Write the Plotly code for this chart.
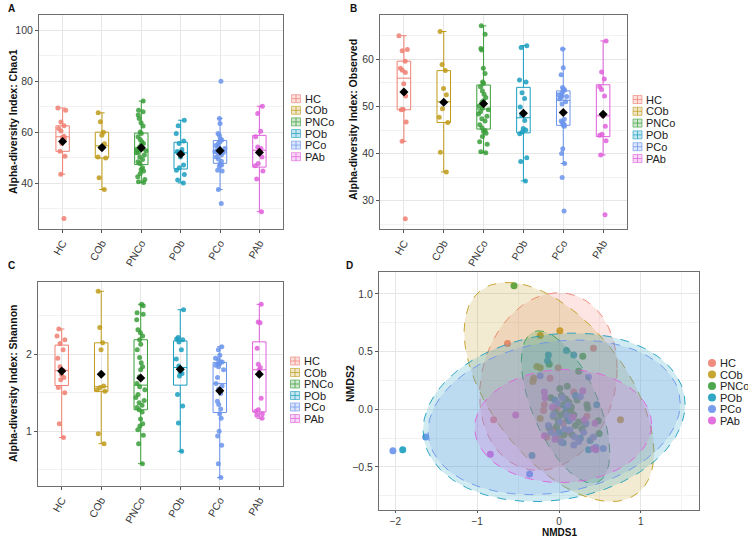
import numpy as np
import plotly.graph_objects as go

# ---------------- data ----------------
groups = ["HC", "COb", "PNCo", "POb", "PCo", "PAb"]
colors = ["#F07F72", "#C09B1A", "#3A9E3A", "#1A9DBE", "#6B94EC", "#E060DA"]

# Panel A: Chao1
chao1_hc = [69.5, 68.6, 64.0, 62.5, 60.5, 61.4, 58.4, 58.0, 57.5, 55.6, 52.5, 50.6, 43.5, 26.1]
chao1_cob = [67.6, 64.1, 60.0, 58.8, 55.5, 53.8, 50.3, 49.9, 42.1, 37.5]
chao1_pnco = [72.2, 68.6, 68.0, 66.7, 65.4, 63.7, 62.4, 60.1, 59.5, 58.2, 57.1, 56.2, 55.6, 55.0,
              54.2, 53.3, 53.0, 52.7, 52.0, 51.9, 51.0, 50.3, 49.3, 48.4, 47.7, 46.0, 45.4, 44.8,
              43.8, 42.5, 41.4, 40.5, 40.3]
chao1_pob = [64.7, 62.5, 59.5, 56.5, 55.6, 53.2, 52.4, 52.0, 51.8, 50.3, 47.1, 46.0, 45.1, 43.4, 41.2, 40.1]
chao1_pco = [80.0, 65.4, 63.4, 59.5, 58.8, 57.5, 56.9, 56.2, 55.6, 54.8, 54.2, 53.6, 52.9, 52.3,
             52.0, 51.6, 51.0, 50.3, 49.5, 48.6, 47.5, 47.1, 46.5, 45.1, 44.8, 37.5, 32.0]
chao1_pab = [70.2, 67.3, 60.4, 58.2, 54.2, 53.6, 52.9, 50.3, 47.7, 46.8, 44.8, 41.6, 28.8]

# Panel B: Observed
obs_hc = [65.0, 62.1, 61.8, 59.6, 58.1, 57.7, 57.2, 54.8, 52.2, 49.4, 49.3, 46.7, 42.6, 26.2]
obs_cob = [65.9, 58.9, 57.6, 53.8, 52.5, 49.5, 47.7, 46.6, 40.3, 36.1]
obs_pnco = [67.1, 65.3, 62.3, 62.0, 58.1, 57.0, 55.2, 54.9, 54.2, 53.3, 52.6, 51.9, 51.2, 50.9,
            50.1, 49.6, 49.3, 48.9, 48.4, 47.9, 47.4, 46.9, 46.1, 45.5, 44.9, 44.7, 44.3, 43.6,
            42.5, 42.0, 40.4, 40.2]
obs_pob = [62.9, 62.5, 55.6, 55.2, 52.9, 51.7, 49.9, 48.2, 47.0, 45.3, 45.0, 44.6, 44.2, 39.1, 38.3, 34.2]
obs_pco = [62.2, 58.2, 56.7, 54.0, 53.7, 53.5, 53.3, 52.8, 52.5, 52.3, 52.1, 51.9, 51.6, 51.0,
           50.5, 47.3, 46.9, 46.6, 46.2, 46.0, 45.8, 41.0, 40.0, 37.9, 34.9, 27.8]
obs_pab = [63.9, 57.3, 55.8, 54.2, 53.6, 52.2, 48.0, 45.8, 44.1, 43.9, 42.7, 39.7, 27.0]

# Panel C: Shannon
sh_hc = [2.33, 2.24, 2.19, 2.14, 2.06, 1.95, 1.84, 1.79, 1.74, 1.70, 1.67, 1.57, 1.50, 1.10, 0.92]
sh_cob = [2.82, 2.35, 2.15, 2.06, 1.59, 1.57, 1.54, 1.52, 0.97, 0.84]
sh_pnco = [0.58, 0.84, 0.95, 1.02, 1.07, 1.10, 1.16, 1.25, 1.28, 1.31, 1.34, 1.37, 1.40, 1.44,
           1.48, 1.54, 1.58, 1.62, 1.71, 1.80, 1.84, 1.89, 1.96, 2.06, 2.13, 2.19, 2.24, 2.28,
           2.32, 2.45, 2.52, 2.54, 2.63, 2.65]
sh_pob = [2.58, 2.22, 2.20, 2.19, 2.16, 2.06, 1.94, 1.85, 1.81, 1.77, 1.75, 1.72, 1.48, 1.33, 1.11, 0.74]
sh_pco = [2.10, 2.06, 1.99, 1.95, 1.93, 1.90, 1.90, 1.88, 1.87, 1.86, 1.84, 1.80, 1.70, 1.62,
          1.59, 1.55, 1.49, 1.39, 1.35, 1.29, 1.23, 1.17, 1.00, 0.94, 0.82, 0.58, 0.40]
sh_pab = [2.65, 2.42, 2.41, 2.08, 1.87, 1.83, 1.80, 1.43, 1.28, 1.26, 1.23, 1.21, 1.17]

# Panel D: NMDS scores
nm_hc_x = [-0.63, -0.80, 0.42, -0.11, -0.18, -0.19, -0.01, 0.18, -0.07, 0.05, 0.34, -0.15, -0.02, 0.12]
nm_hc_y = [0.57, -0.09, 0.53, 0.27, 0.04, -0.01, 0.36, 0.15, -0.18, -0.12, -0.06, -0.24, 0.01, -0.20]
nm_cob_x = [-0.23, 0.01, 0.75, -0.27, -0.23, -0.31, -0.32, -0.23, 0.01, 0.10]
nm_cob_y = [0.64, 0.68, -0.09, 0.37, 0.36, 0.27, 0.24, -0.08, -0.26, -0.02]
nm_pnco_x = [-0.55, -0.12, 0.29, 0.24, 0.01, 0.34, 0.35, 0.48, 0.49, 0.24, 0.32, -0.03, -0.07, 0.07,
             0.12, 0.14, 0.05, 0.10, 0.18, -0.10, 0.02, 0.08, 0.15, -0.05, 0.20, 0.06, -0.12, 0.28,
             0.10, 0.22, 0.03, -0.01, 0.16]
nm_pnco_y = [1.07, 0.39, 0.46, 0.33, 0.18, 0.04, 0.01, -0.10, -0.21, -0.11, -0.13, -0.15, -0.06, -0.03,
             0.06, -0.01, 0.04, -0.08, -0.05, 0.10, -0.05, 0.09, 0.02, -0.02, -0.14, -0.22, -0.16, -0.17,
             0.20, 0.08, 0.12, -0.10, -0.22]
nm_pob_x = [-1.91, -0.33, -0.13, 0.09, 0.18, 0.46, 0.38, 0.36, 0.05, 0.00, 0.12, -0.05, 0.20, 0.26, 0.08, -0.14]
nm_pob_y = [-0.35, -0.40, 0.47, 0.51, 0.47, 0.04, -0.27, -0.35, -0.29, -0.20, -0.10, 0.08, 0.12, -0.25, 0.02, 0.42]
nm_pco_x = [-2.03, -1.63, -0.36, -0.23, 0.36, 0.26, 0.42, 0.54, 0.18, -0.13, 0.01, -0.07, 0.09, 0.13,
            0.19, 0.04, 0.30, -0.02, 0.07, 0.24, -0.10, 0.15, 0.02, 0.33, 0.11, -0.04, 0.45]
nm_pco_y = [-0.36, -0.24, -0.56, 0.29, 0.28, 0.11, -0.24, -0.34, -0.31, -0.14, -0.11, -0.05, -0.05, -0.18,
            -0.24, 0.10, -0.20, 0.05, -0.17, -0.28, -0.20, -0.08, -0.28, -0.12, 0.04, -0.23, -0.33]
nm_pab_x = [-0.53, -0.84, -0.17, -0.18, 0.29, 0.44, 0.45, -0.05, -0.18, 0.42, 0.17, 0.31, -0.08]
nm_pab_y = [-0.05, -0.39, 0.10, 0.15, 0.16, -0.12, -0.35, -0.26, -0.23, -0.34, -0.07, -0.09, 0.02]

# Confidence ellipse parameters (centre, half-extents, correlation) per group
ell_cx = [-0.13, 0.00, 0.08, -0.06, -0.06, 0.05]
ell_cy = [0.24, 0.15, 0.02, -0.07, -0.07, -0.145]
ell_ex = [0.84, 1.16, 0.54, 1.60, 1.54, 1.08]
ell_ey = [0.77, 0.95, 0.66, 0.73, 0.67, 0.49]
ell_r = [0.15, -0.55, -0.60, 0.15, 0.18, 0.03]

panel_data = [
    [chao1_hc, chao1_cob, chao1_pnco, chao1_pob, chao1_pco, chao1_pab],
    [obs_hc, obs_cob, obs_pnco, obs_pob, obs_pco, obs_pab],
    [sh_hc, sh_cob, sh_pnco, sh_pob, sh_pco, sh_pab],
]
nmds_x = [nm_hc_x, nm_cob_x, nm_pnco_x, nm_pob_x, nm_pco_x, nm_pab_x]
nmds_y = [nm_hc_y, nm_cob_y, nm_pnco_y, nm_pob_y, nm_pco_y, nm_pab_y]

# ---------------- layout helpers ----------------
W, H = 748, 539
FONT = "Liberation Sans, Arial, Helvetica, sans-serif"


def fx(p):
    return p / W


def fy(p):
    return 1 - p / H


def rgba(hexc, a):
    h = hexc.lstrip("#")
    return "rgba(%d,%d,%d,%.3f)" % (int(h[0:2], 16), int(h[2:4], 16), int(h[4:6], 16), a)


fig = go.Figure()

# pixel boxes of the four panels: (x0, x1, y0, y1)
boxes = [(39, 283, 15, 229), (380, 627, 15, 229), (38, 283, 282, 486), (379, 699, 272, 510)]
suffix = ["", "2", "3", "4"]

# ---------------- box panels ----------------
for p in range(3):
    xa = "x" + suffix[p]
    ya = "y" + suffix[p]
    for i, g in enumerate(groups):
        vals = panel_data[p][i]
        fig.add_trace(go.Box(
            x=[g] * len(vals), y=vals, name=g, xaxis=xa, yaxis=ya,
            boxpoints="all", jitter=0.8, pointpos=0, width=0.34,
            whiskerwidth=0.4, quartilemethod="linear",
            line=dict(color=colors[i], width=1),
            fillcolor="rgba(255,255,255,0)",
            marker=dict(color=colors[i], size=5, opacity=0.85),
            showlegend=False, hoverinfo="y",
        ))
    means = [float(np.mean(v)) for v in panel_data[p]]
    fig.add_trace(go.Scatter(
        x=groups, y=means, mode="markers", xaxis=xa, yaxis=ya,
        marker=dict(symbol="diamond", size=7, color="black"),
        showlegend=False,
    ))

# ---------------- NMDS panel ----------------
for i, g in enumerate(groups):
    fig.add_trace(go.Scatter(
        x=nmds_x[i], y=nmds_y[i], mode="markers", xaxis="x4", yaxis="y4",
        marker=dict(color=colors[i], size=7, opacity=0.9), name=g, showlegend=False,
    ))
t = np.linspace(0, 2 * np.pi, 200)
for i, g in enumerate(groups):
    r = ell_r[i]
    ex = ell_cx[i] + ell_ex[i] * np.cos(t)
    ey = ell_cy[i] + ell_ey[i] * (r * np.cos(t) + np.sqrt(1 - r * r) * np.sin(t))
    fig.add_trace(go.Scatter(
        x=ex, y=ey, mode="lines", xaxis="x4", yaxis="y4", fill="toself",
        fillcolor=rgba(colors[i], 0.2),
        line=dict(color=colors[i], width=0.9, dash="dash"),
        showlegend=False, hoverinfo="skip",
    ))

# ---------------- axes ----------------
axis_common = dict(
    showline=True, mirror=True, linecolor="#6E6E6E", linewidth=1,
    gridcolor="#E6E6E6", gridwidth=1, zeroline=False,
    ticks="outside", ticklen=3, tickcolor="#555555",
    tickfont=dict(family=FONT, size=10.5, color="#3A3A3A"),
)
minor_grid = dict(showgrid=True, gridcolor="#F2F2F2", gridwidth=0.6, ticks="")

y_specs = [
    dict(range=[22, 106], tickvals=[40, 60, 80, 100], minor=dict(tickvals=[30, 50, 70, 90], **minor_grid)),
    dict(range=[24.0, 69.4], tickvals=[30, 40, 50, 60], minor=dict(tickvals=[25, 35, 45, 55, 65], **minor_grid)),
    dict(range=[0.29, 2.94], tickvals=[1, 2], minor=dict(tickvals=[0.5, 1.5, 2.5], **minor_grid)),
]

layout = dict(
    width=W, height=H, margin=dict(l=0, r=0, t=0, b=0),
    paper_bgcolor="white", plot_bgcolor="white",
    font=dict(family=FONT, color="#222222"),
)
for p in range(3):
    x0, x1, y0, y1 = boxes[p]
    layout["xaxis" + suffix[p]] = dict(
        axis_common, domain=[fx(x0), fx(x1)], anchor="y" + suffix[p],
        type="category", categoryorder="array", categoryarray=groups,
        range=[-0.6, 5.6], tickangle=-60, showgrid=True,
    )
    layout["yaxis" + suffix[p]] = dict(
        axis_common, domain=[fy(y1), fy(y0)], anchor="x" + suffix[p],
        showgrid=True, **y_specs[p],
    )
x0, x1, y0, y1 = boxes[3]
xa4 = dict(axis_common)
xa4.update(ticklen=2, tickfont=dict(family=FONT, size=10, color="#3A3A3A"))
layout["xaxis4"] = dict(
    xa4, domain=[fx(x0), fx(x1)], anchor="y4", range=[-2.2, 1.71],
    tickvals=[-2, -1, 0, 1], showgrid=True,
    minor=dict(tickvals=[-1.5, -0.5, 0.5, 1.5], **minor_grid),
)
layout["yaxis4"] = dict(
    axis_common, domain=[fy(y1), fy(y0)], anchor="x4", range=[-0.873, 1.19],
    tickvals=[-0.5, 0, 0.5, 1.0], tickformat=".1f", showgrid=True,
    minor=dict(tickvals=[-0.75, -0.25, 0.25, 0.75], **minor_grid),
)
fig.update_layout(**layout)

annotations = []
shapes = []

# panel letters
for lab, (px_, py_) in zip("ABCD", [(11, 9), (353, 9), (11, 265), (349, 265)]):
    annotations.append(dict(text="<b>%s</b>" % lab, x=fx(px_), y=fy(py_), xref="paper", yref="paper",
                            showarrow=False, xanchor="center", yanchor="middle",
                            font=dict(family=FONT, size=10, color="#111111")))

# axis titles
ytitles = [("Alpha-diversity Index: Chao1", 13, 122),
           ("Alpha-diversity Index: Observed", 353, 120),
           ("Alpha-diversity Index: Shannon", 13, 383),
           ("NMDS2", 350, 384)]
for txt, px_, py_ in ytitles:
    annotations.append(dict(text="<b>%s</b>" % txt, x=fx(px_), y=fy(py_), xref="paper", yref="paper",
                            showarrow=False, textangle=-90, xanchor="center", yanchor="middle",
                            font=dict(family=FONT, size=10.5, color="#111111")))
annotations.append(dict(text="<b>NMDS1</b>", x=fx(559), y=0, xref="paper", yref="paper",
                        showarrow=False, xanchor="center", yanchor="bottom", borderpad=0,
                        font=dict(family=FONT, size=10, color="#111111")))

# legends: (key centre x, first item y, spacing)
legend_pos = [(296, 98.7, 11.6), (637.5, 99.5, 11.8), (295, 361, 11.5)]
for kx, ky, dy in legend_pos:
    for i, g in enumerate(groups):
        cy = ky + i * dy
        shapes.append(dict(type="rect", xref="paper", yref="paper",
                           x0=fx(kx - 4.5), x1=fx(kx + 4.5), y0=fy(cy + 4), y1=fy(cy - 4),
                           line=dict(color=rgba(colors[i], 0.6), width=1),
                           fillcolor=rgba(colors[i], 0.25)))
        shapes.append(dict(type="line", xref="paper", yref="paper",
                           x0=fx(kx - 4.5), x1=fx(kx + 4.5), y0=fy(cy), y1=fy(cy),
                           line=dict(color=rgba(colors[i], 0.7), width=1)))
        shapes.append(dict(type="line", xref="paper", yref="paper",
                           x0=fx(kx), x1=fx(kx), y0=fy(cy + 4), y1=fy(cy - 4),
                           line=dict(color=rgba(colors[i], 0.7), width=1)))
        annotations.append(dict(text=g, x=fx(kx + 6.5), y=fy(cy), xref="paper", yref="paper",
                                showarrow=False, xanchor="left", yanchor="middle",
                                font=dict(family=FONT, size=11, color="#222222")))
kx, ky, dy = 712, 363, 11.5
for i, g in enumerate(groups):
    cy = ky + i * dy
    shapes.append(dict(type="circle", xref="paper", yref="paper",
                       x0=fx(kx - 4), x1=fx(kx + 4), y0=fy(cy + 4), y1=fy(cy - 4),
                       line=dict(width=0), fillcolor=rgba(colors[i], 0.9)))
    annotations.append(dict(text=g, x=fx(kx + 5.5), y=fy(cy), xref="paper", yref="paper",
                            showarrow=False, xanchor="left", yanchor="middle",
                            font=dict(family=FONT, size=11, color="#222222")))

fig.update_layout(annotations=annotations, shapes=shapes)
fig.write_html("out.html", config={"displayModeBar": False},
               post_script="document.body.style.margin='0';document.body.style.overflow='hidden';")
